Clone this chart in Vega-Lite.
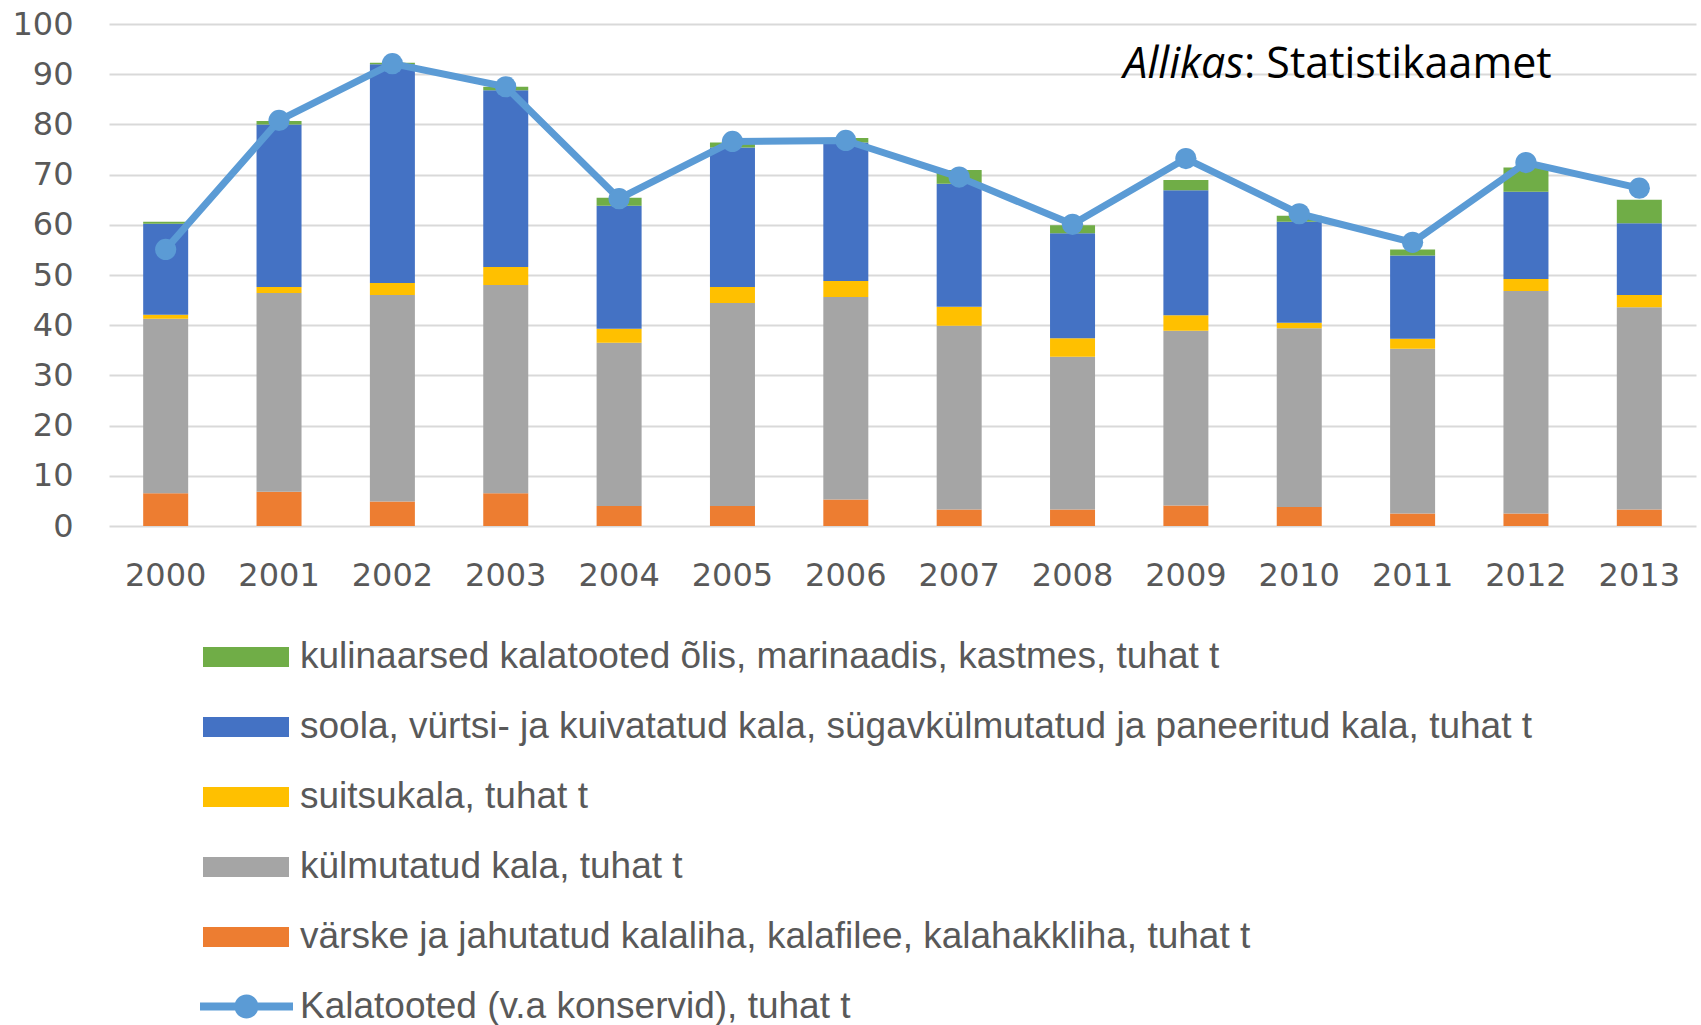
{
  "$schema": "https://vega.github.io/schema/vega-lite/v6.json",
  "width": 1587,
  "height": 502,
  "autosize": {"type": "none"},
  "padding": {"left": 109, "top": 24, "right": 5, "bottom": 499},
  "background": "white",
  "datasets": {
    "series": [
      {"s": "värske ja jahutatud kalaliha, kalafilee, kalahakkliha, tuhat t", "rank": 1},
      {"s": "külmutatud kala, tuhat t", "rank": 2},
      {"s": "suitsukala, tuhat t", "rank": 3},
      {"s": "soola, vürtsi- ja kuivatatud kala, sügavkülmutatud ja paneeritud kala, tuhat t", "rank": 4},
      {"s": "kulinaarsed kalatooted õlis, marinaadis, kastmes, tuhat t", "rank": 5}
    ],
    "bars": [
      {"year": "2000", "s": "värske ja jahutatud kalaliha, kalafilee, kalahakkliha, tuhat t", "v": 6.5},
      {"year": "2000", "s": "külmutatud kala, tuhat t", "v": 34.8},
      {"year": "2000", "s": "suitsukala, tuhat t", "v": 0.8},
      {"year": "2000", "s": "soola, vürtsi- ja kuivatatud kala, sügavkülmutatud ja paneeritud kala, tuhat t", "v": 18.1},
      {"year": "2000", "s": "kulinaarsed kalatooted õlis, marinaadis, kastmes, tuhat t", "v": 0.4},
      {"year": "2001", "s": "värske ja jahutatud kalaliha, kalafilee, kalahakkliha, tuhat t", "v": 6.8},
      {"year": "2001", "s": "külmutatud kala, tuhat t", "v": 39.6},
      {"year": "2001", "s": "suitsukala, tuhat t", "v": 1.2},
      {"year": "2001", "s": "soola, vürtsi- ja kuivatatud kala, sügavkülmutatud ja paneeritud kala, tuhat t", "v": 32.4},
      {"year": "2001", "s": "kulinaarsed kalatooted õlis, marinaadis, kastmes, tuhat t", "v": 0.7},
      {"year": "2002", "s": "värske ja jahutatud kalaliha, kalafilee, kalahakkliha, tuhat t", "v": 4.9},
      {"year": "2002", "s": "külmutatud kala, tuhat t", "v": 41.1},
      {"year": "2002", "s": "suitsukala, tuhat t", "v": 2.4},
      {"year": "2002", "s": "soola, vürtsi- ja kuivatatud kala, sügavkülmutatud ja paneeritud kala, tuhat t", "v": 43.6},
      {"year": "2002", "s": "kulinaarsed kalatooted õlis, marinaadis, kastmes, tuhat t", "v": 0.3},
      {"year": "2003", "s": "värske ja jahutatud kalaliha, kalafilee, kalahakkliha, tuhat t", "v": 6.5},
      {"year": "2003", "s": "külmutatud kala, tuhat t", "v": 41.5},
      {"year": "2003", "s": "suitsukala, tuhat t", "v": 3.6},
      {"year": "2003", "s": "soola, vürtsi- ja kuivatatud kala, sügavkülmutatud ja paneeritud kala, tuhat t", "v": 35.2},
      {"year": "2003", "s": "kulinaarsed kalatooted õlis, marinaadis, kastmes, tuhat t", "v": 0.7},
      {"year": "2004", "s": "värske ja jahutatud kalaliha, kalafilee, kalahakkliha, tuhat t", "v": 4.0},
      {"year": "2004", "s": "külmutatud kala, tuhat t", "v": 32.5},
      {"year": "2004", "s": "suitsukala, tuhat t", "v": 2.8},
      {"year": "2004", "s": "soola, vürtsi- ja kuivatatud kala, sügavkülmutatud ja paneeritud kala, tuhat t", "v": 24.5},
      {"year": "2004", "s": "kulinaarsed kalatooted õlis, marinaadis, kastmes, tuhat t", "v": 1.6},
      {"year": "2005", "s": "värske ja jahutatud kalaliha, kalafilee, kalahakkliha, tuhat t", "v": 4.0},
      {"year": "2005", "s": "külmutatud kala, tuhat t", "v": 40.4},
      {"year": "2005", "s": "suitsukala, tuhat t", "v": 3.2},
      {"year": "2005", "s": "soola, vürtsi- ja kuivatatud kala, sügavkülmutatud ja paneeritud kala, tuhat t", "v": 27.8},
      {"year": "2005", "s": "kulinaarsed kalatooted õlis, marinaadis, kastmes, tuhat t", "v": 1.0},
      {"year": "2006", "s": "värske ja jahutatud kalaliha, kalafilee, kalahakkliha, tuhat t", "v": 5.3},
      {"year": "2006", "s": "külmutatud kala, tuhat t", "v": 40.3},
      {"year": "2006", "s": "suitsukala, tuhat t", "v": 3.2},
      {"year": "2006", "s": "soola, vürtsi- ja kuivatatud kala, sügavkülmutatud ja paneeritud kala, tuhat t", "v": 27.6},
      {"year": "2006", "s": "kulinaarsed kalatooted õlis, marinaadis, kastmes, tuhat t", "v": 0.9},
      {"year": "2007", "s": "värske ja jahutatud kalaliha, kalafilee, kalahakkliha, tuhat t", "v": 3.3},
      {"year": "2007", "s": "külmutatud kala, tuhat t", "v": 36.6},
      {"year": "2007", "s": "suitsukala, tuhat t", "v": 3.8},
      {"year": "2007", "s": "soola, vürtsi- ja kuivatatud kala, sügavkülmutatud ja paneeritud kala, tuhat t", "v": 24.5},
      {"year": "2007", "s": "kulinaarsed kalatooted õlis, marinaadis, kastmes, tuhat t", "v": 2.7},
      {"year": "2008", "s": "värske ja jahutatud kalaliha, kalafilee, kalahakkliha, tuhat t", "v": 3.3},
      {"year": "2008", "s": "külmutatud kala, tuhat t", "v": 30.4},
      {"year": "2008", "s": "suitsukala, tuhat t", "v": 3.7},
      {"year": "2008", "s": "soola, vürtsi- ja kuivatatud kala, sügavkülmutatud ja paneeritud kala, tuhat t", "v": 20.9},
      {"year": "2008", "s": "kulinaarsed kalatooted õlis, marinaadis, kastmes, tuhat t", "v": 1.6},
      {"year": "2009", "s": "värske ja jahutatud kalaliha, kalafilee, kalahakkliha, tuhat t", "v": 4.1},
      {"year": "2009", "s": "külmutatud kala, tuhat t", "v": 34.8},
      {"year": "2009", "s": "suitsukala, tuhat t", "v": 3.1},
      {"year": "2009", "s": "soola, vürtsi- ja kuivatatud kala, sügavkülmutatud ja paneeritud kala, tuhat t", "v": 24.9},
      {"year": "2009", "s": "kulinaarsed kalatooted õlis, marinaadis, kastmes, tuhat t", "v": 2.0},
      {"year": "2010", "s": "värske ja jahutatud kalaliha, kalafilee, kalahakkliha, tuhat t", "v": 3.8},
      {"year": "2010", "s": "külmutatud kala, tuhat t", "v": 35.6},
      {"year": "2010", "s": "suitsukala, tuhat t", "v": 1.1},
      {"year": "2010", "s": "soola, vürtsi- ja kuivatatud kala, sügavkülmutatud ja paneeritud kala, tuhat t", "v": 20.1},
      {"year": "2010", "s": "kulinaarsed kalatooted õlis, marinaadis, kastmes, tuhat t", "v": 1.2},
      {"year": "2011", "s": "värske ja jahutatud kalaliha, kalafilee, kalahakkliha, tuhat t", "v": 2.5},
      {"year": "2011", "s": "külmutatud kala, tuhat t", "v": 32.8},
      {"year": "2011", "s": "suitsukala, tuhat t", "v": 2.0},
      {"year": "2011", "s": "soola, vürtsi- ja kuivatatud kala, sügavkülmutatud ja paneeritud kala, tuhat t", "v": 16.6},
      {"year": "2011", "s": "kulinaarsed kalatooted õlis, marinaadis, kastmes, tuhat t", "v": 1.2},
      {"year": "2012", "s": "värske ja jahutatud kalaliha, kalafilee, kalahakkliha, tuhat t", "v": 2.5},
      {"year": "2012", "s": "külmutatud kala, tuhat t", "v": 44.3},
      {"year": "2012", "s": "suitsukala, tuhat t", "v": 2.4},
      {"year": "2012", "s": "soola, vürtsi- ja kuivatatud kala, sügavkülmutatud ja paneeritud kala, tuhat t", "v": 17.4},
      {"year": "2012", "s": "kulinaarsed kalatooted õlis, marinaadis, kastmes, tuhat t", "v": 4.8},
      {"year": "2013", "s": "värske ja jahutatud kalaliha, kalafilee, kalahakkliha, tuhat t", "v": 3.3},
      {"year": "2013", "s": "külmutatud kala, tuhat t", "v": 40.3},
      {"year": "2013", "s": "suitsukala, tuhat t", "v": 2.4},
      {"year": "2013", "s": "soola, vürtsi- ja kuivatatud kala, sügavkülmutatud ja paneeritud kala, tuhat t", "v": 14.3},
      {"year": "2013", "s": "kulinaarsed kalatooted õlis, marinaadis, kastmes, tuhat t", "v": 4.7}
    ],
    "line": [
      {"year": "2000", "total": 55.1},
      {"year": "2001", "total": 80.8},
      {"year": "2002", "total": 92.1},
      {"year": "2003", "total": 87.5},
      {"year": "2004", "total": 65.2},
      {"year": "2005", "total": 76.6},
      {"year": "2006", "total": 76.8},
      {"year": "2007", "total": 69.5},
      {"year": "2008", "total": 60.1},
      {"year": "2009", "total": 73.2},
      {"year": "2010", "total": 62.2},
      {"year": "2011", "total": 56.5},
      {"year": "2012", "total": 72.4},
      {"year": "2013", "total": 67.3}
    ]
  },
  "config": {
    "view": {"stroke": null},
    "axis": {
      "labelFont": "DejaVu Sans",
      "labelFontSize": 32,
      "labelColor": "#595959",
      "domain": false,
      "ticks": false,
      "title": null
    },
    "legend": {
      "labelFont": "Liberation Sans",
      "labelFontSize": 37,
      "labelColor": "#595959",
      "labelLimit": 1500,
      "padding": 0,
      "title": null
    }
  },
  "layer": [
    {
      "data": {"name": "bars"},
      "transform": [
        {"lookup": "s", "from": {"data": {"name": "series"}, "key": "s", "fields": ["rank"]}}
      ],
      "mark": {"type": "bar", "strokeWidth": 0},
      "encoding": {
        "x": {
          "field": "year",
          "type": "nominal",
          "sort": null,
          "scale": {"paddingInner": 0.603, "paddingOuter": 0.3015},
          "axis": {"labelAngle": 0, "labelPadding": 34, "grid": false}
        },
        "y": {
          "aggregate": "sum",
          "field": "v",
          "type": "quantitative",
          "stack": "zero",
          "scale": {"domain": [0, 100], "nice": false},
          "axis": {
            "values": [0, 10, 20, 30, 40, 50, 60, 70, 80, 90, 100],
            "grid": true,
            "gridColor": "#D9D9D9",
            "gridWidth": 2,
            "labelPadding": 36
          }
        },
        "order": {"field": "rank", "type": "quantitative", "sort": "ascending"},
        "color": {
          "field": "s",
          "type": "nominal",
          "sort": [
            "kulinaarsed kalatooted õlis, marinaadis, kastmes, tuhat t",
            "soola, vürtsi- ja kuivatatud kala, sügavkülmutatud ja paneeritud kala, tuhat t",
            "suitsukala, tuhat t",
            "külmutatud kala, tuhat t",
            "värske ja jahutatud kalaliha, kalafilee, kalahakkliha, tuhat t"
          ],
          "scale": {"range": ["#70AD47", "#4472C4", "#FFC000", "#A5A5A5", "#ED7D31"]},
          "legend": {
            "orient": "none",
            "legendX": 94,
            "legendY": 590,
            "symbolType": "M-1,-0.2326H1V0.2326H-1Z",
            "symbolSize": 7396,
            "symbolStrokeWidth": 0,
            "symbolOpacity": 1,
            "labelOffset": 11,
            "rowPadding": 9
          }
        }
      }
    },
    {
      "data": {"name": "line"},
      "mark": {"type": "line", "strokeWidth": 7, "strokeJoin": "round"},
      "encoding": {
        "x": {"field": "year", "type": "nominal", "sort": null},
        "y": {"field": "total", "type": "quantitative"},
        "stroke": {
          "datum": "Kalatooted (v.a konservid), tuhat t",
          "scale": {"range": ["#5B9BD5"]},
          "legend": {
            "orient": "none",
            "legendX": 91,
            "legendY": 936,
            "symbolType": "M-1,-0.086H1V0.086H-1Z M-0.258,0A0.258,0.258 0 1,1 0.258,0A0.258,0.258 0 1,1 -0.258,0Z",
            "symbolSize": 8649,
            "labelOffset": 7,
            "encode": {
              "symbols": {
                "update": {
                  "fill": {"value": "#5B9BD5"},
                  "stroke": {"value": "#5B9BD5"},
                  "strokeWidth": {"value": 0},
                  "opacity": {"value": 1}
                }
              }
            }
          }
        }
      }
    },
    {
      "data": {"name": "line"},
      "mark": {"type": "point", "filled": true, "size": 450, "color": "#5B9BD5", "opacity": 1},
      "encoding": {
        "x": {"field": "year", "type": "nominal", "sort": null},
        "y": {"field": "total", "type": "quantitative"}
      }
    },
    {
      "data": {"values": [{"t": "Allikas"}]},
      "mark": {"type": "text", "font": "Open Sans", "fontSize": 43, "fontStyle": "italic", "color": "#000000", "align": "right", "baseline": "alphabetic", "dx": 58},
      "encoding": {
        "x": {"datum": "2009"},
        "y": {"datum": 89.2},
        "text": {"field": "t"}
      }
    },
    {
      "data": {"values": [{"t": ": Statistikaamet"}]},
      "mark": {"type": "text", "font": "Open Sans", "fontSize": 43, "color": "#000000", "align": "left", "baseline": "alphabetic", "dx": 58},
      "encoding": {
        "x": {"datum": "2009"},
        "y": {"datum": 89.2},
        "text": {"field": "t"}
      }
    }
  ]
}
